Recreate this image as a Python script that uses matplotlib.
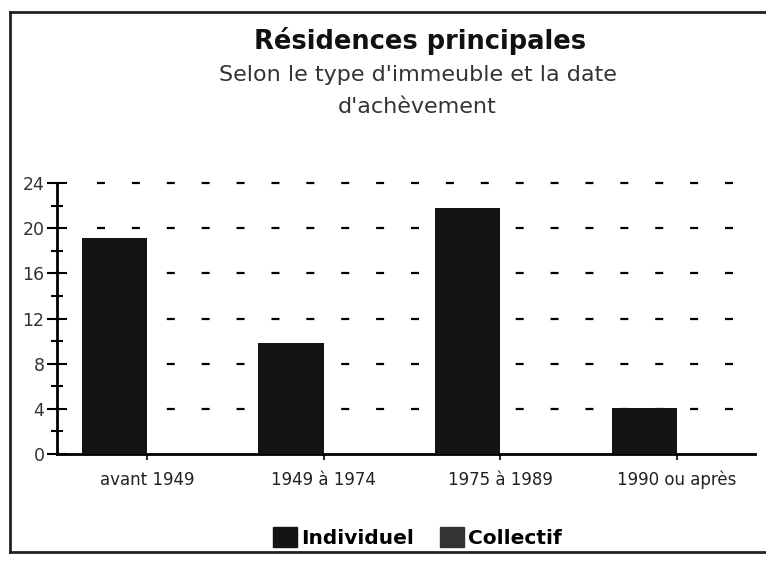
import matplotlib
matplotlib.use("Agg")
import matplotlib.pyplot as plt
from matplotlib.patches import Patch
from matplotlib.lines import Line2D
import numpy as np

categories = ["avant 1949", "1949 à 1974", "1975 à 1989", "1990 ou après"]
individuel = [19.1, 9.8, 21.8, 4.1]
collectif = [0, 0, 0, 0]
yticks = [0, 4, 8, 12, 16, 20, 24]
title = "Résidences principales"
subtitle = "Selon le type d'immeuble et la date\nd'achèvement"

plt.rcParams['font.family'] = ['DejaVu Sans']

fig = plt.figure(figsize=(7.66, 5.63), dpi=100)
ax = fig.add_axes([0.0744, 0.1936, 0.911, 0.481])

x = np.arange(len(categories))
w = 0.37
ax.bar(x - w / 2, individuel, width=w, color='#141414', zorder=3)
ax.bar(x + w / 2, collectif, width=w, color='#333333', zorder=3)

ax.set_xlim(-0.51, 3.44)
ax.set_ylim(0, 24)
ax.set_yticks(yticks)
ax.set_yticks(np.arange(2, 24, 4), minor=True)
ax.set_xticks(x)
ax.set_xticklabels(categories, fontsize=12, color='#222222')
ax.tick_params(axis='y', which='major', direction='inout', length=14, width=1.5,
               labelsize=12.5, labelcolor='#333333', pad=2)
ax.tick_params(axis='y', which='minor', direction='inout', length=8, width=1.5)
ax.tick_params(axis='x', direction='out', length=4, width=1.2, pad=8)

for y in yticks[1:]:
    ax.axhline(y, xmin=0.057, xmax=1.0, color='black', lw=1.6,
               linestyle=(0, (3.6, 12.1)), zorder=1, clip_on=False)

for s in ['top', 'right']:
    ax.spines[s].set_visible(False)
ax.spines['left'].set_linewidth(2)
ax.spines['bottom'].set_linewidth(2)

fig.text(0.549, 0.927, title, ha='center', va='center', fontsize=18.5,
         fontweight='bold', color='#111111')
fig.text(0.545, 0.838, subtitle, ha='center', va='center', fontsize=16,
         color='#333333', linespacing=1.75, multialignment='center')

handles = [Patch(facecolor='#141414', edgecolor='#141414'),
           Patch(facecolor='#333333', edgecolor='#333333')]
fig.legend(handles, ['Individuel', 'Collectif'], loc='center',
           bbox_to_anchor=(0.545, 0.046), ncol=2, frameon=False,
           prop={'weight': 'bold', 'size': 14.5}, handlelength=1.2,
           handleheight=1.2, handletextpad=0.2, columnspacing=1.3)

# frame around the figure (left, top, bottom)
fig.add_artist(Line2D([0.013, 0.013], [0.02, 0.978], color='#222222', lw=2))
fig.add_artist(Line2D([0.013, 1.0], [0.978, 0.978], color='#222222', lw=2))
fig.add_artist(Line2D([0.013, 1.0], [0.02, 0.02], color='#222222', lw=2))

fig.savefig("out.png", dpi=100)
